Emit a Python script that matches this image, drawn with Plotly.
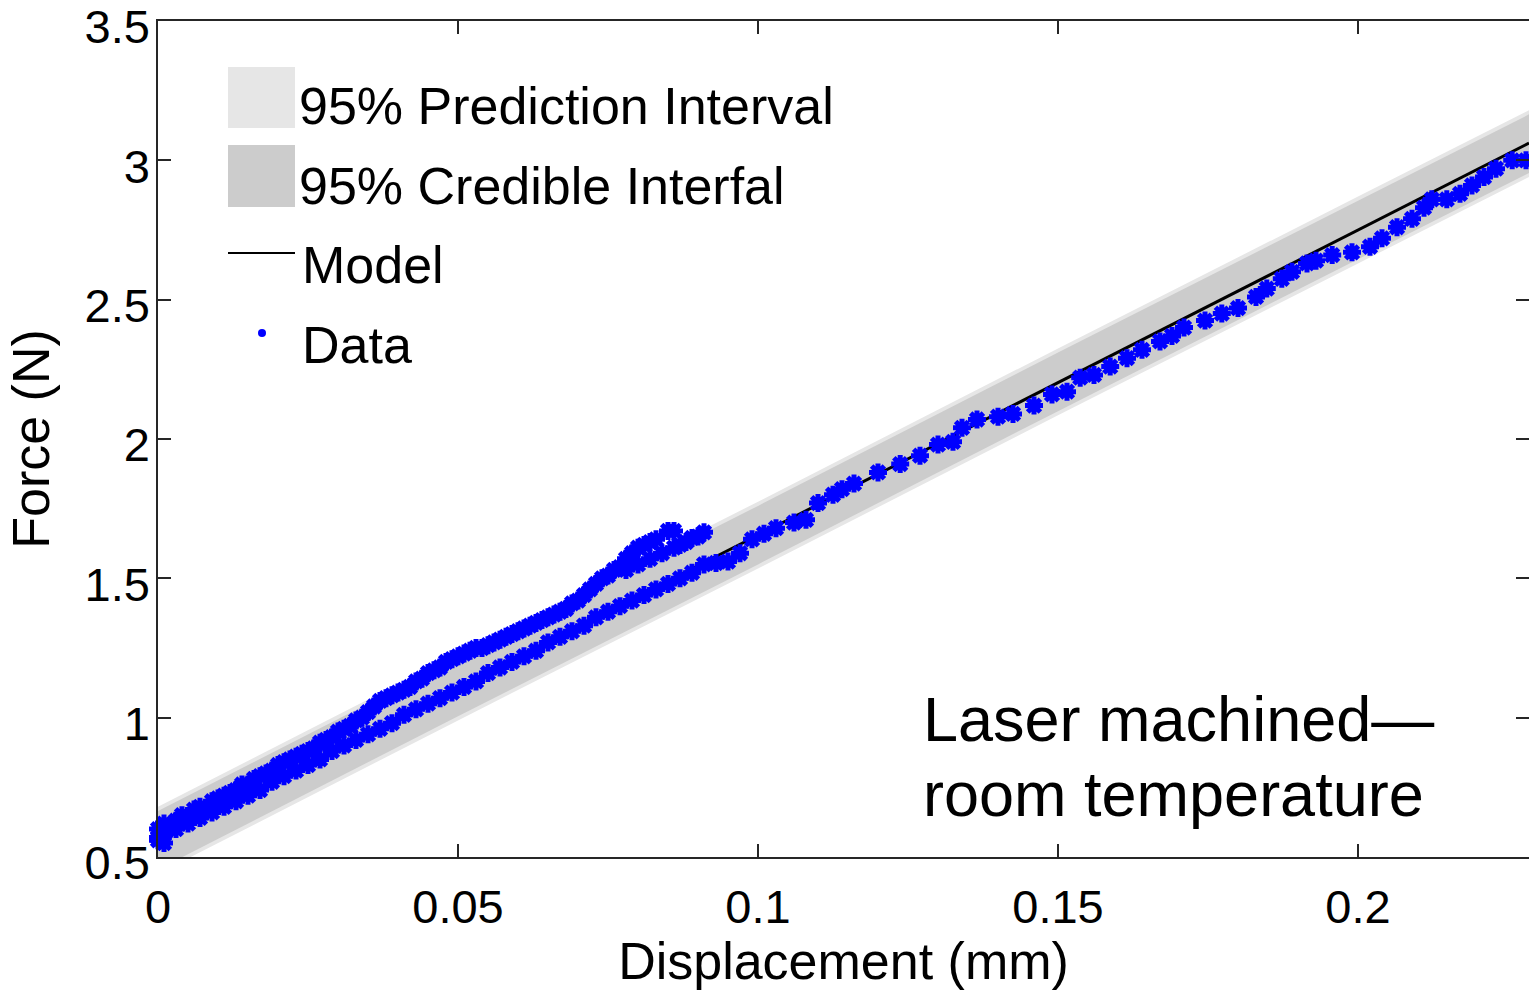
import plotly.graph_objects as go

# ---------------- data ----------------
band_x = [0.0, 0.05, 0.10, 0.15, 0.20, 0.2285]
pred_hi = [0.68, 1.23, 1.775, 2.325, 2.87, 3.18]
pred_lo = [0.44, 0.99, 1.535, 2.085, 2.63, 2.94]
cred_hi = [0.665, 1.215, 1.76, 2.31, 2.855, 3.165]
cred_lo = [0.455, 1.005, 1.55, 2.10, 2.645, 2.955]

model_x = [0.0, 0.05, 0.10, 0.15, 0.20, 0.2285]
model_y = [0.56, 1.108, 1.655, 2.203, 2.75, 3.062]

upper_x = [0.000, 0.000, 0.001, 0.001, 0.002, 0.003, 0.004, 0.005, 0.006, 0.007, 0.008, 0.009,
           0.010, 0.011, 0.012, 0.013, 0.014, 0.015, 0.016, 0.017, 0.018, 0.019, 0.020, 0.021,
           0.022, 0.023, 0.024, 0.025, 0.026, 0.027, 0.028, 0.029, 0.030, 0.031, 0.032, 0.033,
           0.034, 0.035, 0.036, 0.037, 0.038, 0.039, 0.040, 0.041, 0.042, 0.043, 0.044, 0.045,
           0.046, 0.047, 0.048, 0.049, 0.050, 0.051, 0.052, 0.053, 0.054, 0.055, 0.056, 0.057,
           0.058, 0.059, 0.060, 0.061, 0.062, 0.063, 0.064, 0.065, 0.066, 0.067, 0.068, 0.069,
           0.070, 0.071, 0.072, 0.073, 0.074, 0.075, 0.076, 0.077, 0.078, 0.079, 0.080, 0.081,
           0.082, 0.083, 0.085, 0.086]
upper_y = [0.57, 0.60, 0.55, 0.62, 0.60, 0.63, 0.65, 0.64, 0.67, 0.68, 0.67, 0.70,
           0.71, 0.72, 0.73, 0.74, 0.76, 0.76, 0.78, 0.79, 0.80, 0.81, 0.83, 0.84,
           0.85, 0.86, 0.87, 0.88, 0.89, 0.91, 0.92, 0.93, 0.95, 0.96, 0.97, 0.99,
           1.00, 1.02, 1.04, 1.06, 1.07, 1.08, 1.09, 1.10, 1.11, 1.13, 1.14, 1.16,
           1.17, 1.18, 1.20, 1.21, 1.22, 1.23, 1.24, 1.25, 1.25, 1.26, 1.27, 1.28,
           1.29, 1.30, 1.31, 1.32, 1.33, 1.34, 1.35, 1.36, 1.37, 1.38, 1.39, 1.41,
           1.42, 1.44, 1.46, 1.48, 1.50, 1.51, 1.53, 1.54, 1.57, 1.59, 1.61, 1.62,
           1.63, 1.64, 1.67, 1.67]

upper2_x = [0.078, 0.080, 0.082, 0.084, 0.086, 0.087, 0.088, 0.089, 0.090, 0.091]
upper2_y = [1.53, 1.55, 1.57, 1.59, 1.61, 1.62, 1.63, 1.645, 1.65, 1.665]

lower_x = [0.000, 0.001, 0.003, 0.005, 0.007, 0.009, 0.011, 0.013, 0.015, 0.017, 0.019, 0.021,
           0.023, 0.025, 0.027, 0.029, 0.031, 0.033, 0.035, 0.037, 0.039, 0.041, 0.043, 0.045,
           0.047, 0.049, 0.051, 0.053, 0.055, 0.057, 0.059, 0.061, 0.063, 0.065, 0.067, 0.069,
           0.071, 0.073, 0.075, 0.077, 0.079, 0.081, 0.083, 0.085, 0.087, 0.089, 0.091, 0.093,
           0.095, 0.097, 0.099, 0.101, 0.103, 0.106, 0.108, 0.110, 0.1125, 0.114, 0.116, 0.120,
           0.1237, 0.127, 0.130, 0.1325, 0.134, 0.1365, 0.140, 0.1425, 0.146, 0.149, 0.1515, 0.1537,
           0.156, 0.1587, 0.1615, 0.164, 0.167, 0.169, 0.171, 0.1745, 0.1773, 0.180, 0.183, 0.1848,
           0.1873, 0.189, 0.1915, 0.193, 0.1957, 0.199, 0.202, 0.204, 0.2065, 0.209, 0.211, 0.2123,
           0.2148, 0.217, 0.219, 0.221, 0.223, 0.2257, 0.228]
lower_y = [0.56, 0.58, 0.60, 0.62, 0.64, 0.66, 0.68, 0.70, 0.72, 0.74, 0.77, 0.79,
           0.81, 0.83, 0.85, 0.88, 0.90, 0.92, 0.94, 0.96, 0.98, 1.01, 1.03, 1.05,
           1.07, 1.09, 1.11, 1.13, 1.16, 1.18, 1.20, 1.22, 1.24, 1.27, 1.29, 1.31,
           1.33, 1.36, 1.38, 1.40, 1.42, 1.44, 1.46, 1.48, 1.50, 1.52, 1.55, 1.555,
           1.56, 1.59, 1.64, 1.66, 1.68, 1.70, 1.71, 1.77, 1.80, 1.82, 1.84, 1.88,
           1.91, 1.94, 1.98, 1.99, 2.04, 2.07, 2.08, 2.09, 2.12, 2.16, 2.17, 2.22,
           2.23, 2.26, 2.29, 2.32, 2.35, 2.37, 2.40, 2.425, 2.45, 2.47, 2.51, 2.54,
           2.575, 2.60, 2.63, 2.64, 2.66, 2.67, 2.69, 2.72, 2.76, 2.79, 2.83, 2.86,
           2.86, 2.88, 2.91, 2.94, 2.97, 3.00, 3.00]

x_ticks = [0, 0.05, 0.1, 0.15, 0.2]
x_ticklabels = ["0", "0.05", "0.1", "0.15", "0.2"]
y_ticks = [0.5, 1, 1.5, 2, 2.5, 3, 3.5]
y_ticklabels = ["0.5", "1", "1.5", "2", "2.5", "3", "3.5"]

legend_labels = ["95% Prediction Interval", "95% Credible Interfal", "Model", "Data"]

# ---------------- style ----------------
W, H = 1529, 990
PL, PR, PT, PB = 158, 1529, 21, 857
FONT = "Liberation Sans, Arial, Helvetica, sans-serif"
PRED_C = "#e6e6e6"
CRED_C = "#cccccc"
BLUE = "#0000ff"


def px(xp):
    return (xp - PL) / (PR - PL)


def py(yp):
    return (PB - yp) / (PB - PT)


fig = go.Figure()

# prediction band
fig.add_trace(go.Scatter(x=band_x, y=pred_lo, mode="lines", line=dict(width=0),
                         showlegend=False, hoverinfo="skip"))
fig.add_trace(go.Scatter(x=band_x, y=pred_hi, mode="lines", line=dict(width=0),
                         fill="tonexty", fillcolor=PRED_C, showlegend=False, hoverinfo="skip"))
# credible band
fig.add_trace(go.Scatter(x=band_x, y=cred_lo, mode="lines", line=dict(width=0),
                         showlegend=False, hoverinfo="skip"))
fig.add_trace(go.Scatter(x=band_x, y=cred_hi, mode="lines", line=dict(width=0),
                         fill="tonexty", fillcolor=CRED_C, showlegend=False, hoverinfo="skip"))
# model
fig.add_trace(go.Scatter(x=model_x, y=model_y, mode="lines",
                         line=dict(color="black", width=3), showlegend=False))
# data
marker = dict(symbol="asterisk-open", size=15, color=BLUE, line=dict(color=BLUE, width=5))
for xs, ys in [(upper_x, upper_y), (upper2_x, upper2_y), (lower_x, lower_y)]:
    fig.add_trace(go.Scatter(x=xs, y=ys, mode="markers", marker=marker,
                             showlegend=False, cliponaxis=False))

# ---------------- manual legend ----------------
shapes = [
    dict(type="rect", xref="paper", yref="paper", x0=px(228), x1=px(295), y0=py(128), y1=py(67),
         fillcolor=PRED_C, line=dict(width=0), layer="above"),
    dict(type="rect", xref="paper", yref="paper", x0=px(228), x1=px(295), y0=py(207), y1=py(145),
         fillcolor=CRED_C, line=dict(width=0), layer="above"),
    dict(type="line", xref="paper", yref="paper", x0=px(228), x1=px(295), y0=py(253), y1=py(253),
         line=dict(color="black", width=2), layer="above"),
    dict(type="circle", xref="paper", yref="paper", x0=px(258), x1=px(266), y0=py(337), y1=py(329),
         fillcolor=BLUE, line=dict(width=0), layer="above"),
]
annotations = []
for lab, (xl, yc) in zip(legend_labels, [(297, 106), (297, 186), (300, 265), (300, 345)]):
    annotations.append(dict(text=lab, xref="paper", yref="paper", x=px(xl), y=py(yc),
                            xanchor="left", yanchor="middle", showarrow=False,
                            font=dict(family=FONT, size=52, color="black")))

annotations.append(dict(text="Laser machined\u2014", xref="paper", yref="paper", x=px(921), y=py(719),
                        xanchor="left", yanchor="middle", showarrow=False,
                        font=dict(family=FONT, size=63, color="black")))
annotations.append(dict(text="room temperature", xref="paper", yref="paper", x=px(921), y=py(794),
                        xanchor="left", yanchor="middle", showarrow=False,
                        font=dict(family=FONT, size=63, color="black")))

axis_common = dict(showgrid=False, zeroline=False, showline=True, linecolor="#262626",
                   linewidth=1.5, mirror="ticks", ticks="inside", ticklen=13, tickwidth=1.5,
                   tickcolor="#262626", ticklabeloverflow="allow",
                   tickfont=dict(family=FONT, size=47, color="black"))

fig.update_layout(
    width=W, height=H,
    margin=dict(l=PL, r=W - PR, t=PT, b=H - PB, autoexpand=False),
    paper_bgcolor="white", plot_bgcolor="white",
    showlegend=False,
    xaxis=dict(range=[0, 0.2285], tickvals=x_ticks, ticktext=x_ticklabels,
               ticklabelstandoff=8,
               title=dict(text="Displacement (mm)", font=dict(family=FONT, size=52, color="black"),
                          standoff=24),
               **axis_common),
    yaxis=dict(range=[0.4999, 3.5001], tickvals=y_ticks, ticktext=y_ticklabels,
               ticklabelstandoff=-3, ticklabelshift=6,
               title=dict(text="Force (N)", font=dict(family=FONT, size=52, color="black"),
                          standoff=18),
               **axis_common),
    shapes=shapes,
    annotations=annotations,
)

fig.write_html("out.html")
